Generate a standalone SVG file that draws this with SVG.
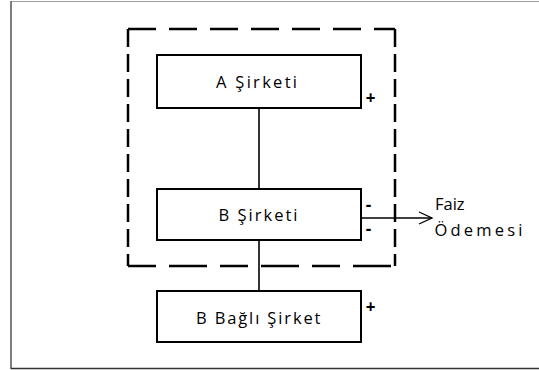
<svg xmlns="http://www.w3.org/2000/svg" width="539" height="370" viewBox="0 0 539 370">
  <style>
    .box { fill: #ffffff; stroke: #000000; stroke-width: 2; }
    .lbl { font-family: "Open Sans", "Liberation Sans", sans-serif; font-size: 16.5px; fill: #000000; font-variant-ligatures: none; }
    .sign { font-family: "Open Sans", "Liberation Sans", sans-serif; font-size: 17px; font-weight: bold; fill: #000000; text-anchor: middle; }
    .link { stroke: #000000; stroke-width: 1.6; fill: none; }
    .group { stroke: #000000; stroke-width: 2.5; fill: none; }
  </style>
  <defs>
    <marker id="open-arrow" markerWidth="16" markerHeight="14" refX="14" refY="7" orient="auto" markerUnits="userSpaceOnUse">
      <path d="M1,1 L14,7 L1,13" fill="none" stroke="#000000" stroke-width="1.3"/>
    </marker>
  </defs>

  <rect x="0" y="0" width="539" height="370" fill="#ffffff"/>

  <!-- page frame -->
  <g id="frame">
    <line x1="11" y1="1.5" x2="539" y2="1.5" stroke="#a0a0a0" stroke-width="1.2"/>
    <line x1="11" y1="1" x2="11" y2="369" stroke="#707070" stroke-width="1.8"/>
    <line x1="11" y1="368.5" x2="539" y2="368.5" stroke="#333333" stroke-width="1.5"/>
  </g>

  <!-- consolidation boundary -->
  <g id="group-boundary">
    <line class="group" x1="128" y1="29" x2="395" y2="29" stroke-dasharray="28 13"/>
    <line class="group" x1="128" y1="266" x2="395" y2="266" stroke-dasharray="28 13 38 13"/>
    <line class="group" x1="128" y1="29" x2="128" y2="266" stroke-dasharray="18 7"/>
    <line class="group" x1="395" y1="29" x2="395" y2="266" stroke-dasharray="18 7"/>
  </g>

  <!-- connectors -->
  <g id="connectors">
    <line class="link" x1="259" y1="108" x2="259" y2="189"/>
    <line class="link" x1="259" y1="240" x2="259" y2="291"/>
    <line class="link" x1="361" y1="218" x2="432" y2="218" marker-end="url(#open-arrow)"/>
  </g>

  <g id="a-sirketi">
    <rect class="box" x="157" y="55" width="204" height="53"/>
    <text class="lbl" x="216" y="88" textLength="81" lengthAdjust="spacing">A Şirketi</text>
    <text class="sign" x="370.5" y="103.5">+</text>
  </g>

  <g id="b-sirketi">
    <rect class="box" x="157" y="189" width="204" height="51"/>
    <text class="lbl" x="218.5" y="221" textLength="79" lengthAdjust="spacing">B Şirketi</text>
    <text class="sign" x="368.5" y="211">-</text>
    <text class="sign" x="368.5" y="235">-</text>
  </g>

  <g id="b-bagli-sirket">
    <rect class="box" x="157" y="291" width="204" height="51"/>
    <text class="lbl" x="196" y="323.5" textLength="124.5" lengthAdjust="spacing">B Bağlı Şirket</text>
    <text class="sign" x="370.5" y="313">+</text>
  </g>

  <g id="faiz-odemesi">
    <text class="lbl" x="435" y="209.5">Faiz</text>
    <text class="lbl" x="434.5" y="235.5" textLength="88" lengthAdjust="spacing">Ödemesi</text>
  </g>
</svg>
